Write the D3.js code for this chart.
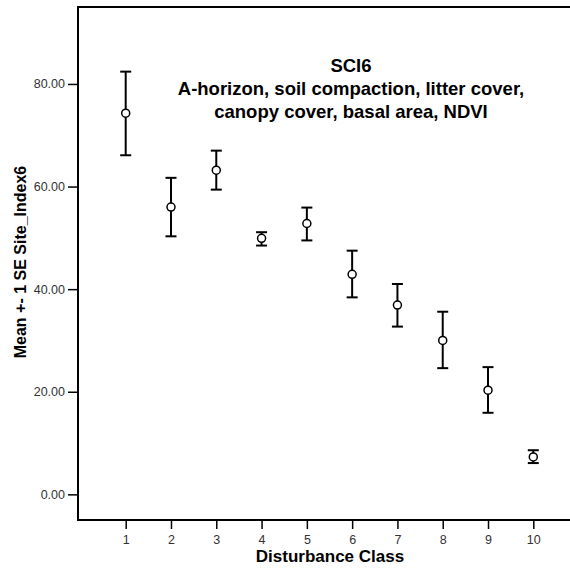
<!DOCTYPE html>
<html>
<head>
<meta charset="UTF-8">
<style>
  html, body { margin: 0; padding: 0; background: white; overflow: hidden; }
  svg { display: block; }
  svg text { font-family: "Liberation Sans", Arial, sans-serif; }
</style>
</head>
<body>
<svg></svg>
<script src="https://d3js.org/d3.v7.min.js"></script>
<script>

// Disturbance classes and mean +- 1 SE of Site_Index6
let classes = [1, 2, 3, 4, 5, 6, 7, 8, 9, 10];
let means  = [74.3, 56.0, 63.2, 49.9, 52.8, 42.9, 36.9, 30.0, 20.3, 7.3];
let upper  = [82.4, 61.7, 67.0, 51.1, 55.9, 47.5, 41.0, 35.6, 24.8, 8.6];
let lower  = [66.1, 50.3, 59.4, 48.5, 49.5, 38.4, 32.7, 24.6, 15.9, 6.1];
let yTicks = [0, 20, 40, 60, 80];
let titleLines = ["SCI6", "A-horizon, soil compaction, litter cover,", "canopy cover, basal area, NDVI"];

let width = 570, height = 569;
let svg = d3.select("svg").attr("width", width).attr("height", height);

let plotLeft = 78, plotTop = 7, plotBottom = 520;

let x = d3.scaleLinear().domain([1, 10]).range([125.7, 533.3]);
let y = d3.scaleLinear().domain([-5, 95]).range([plotBottom, plotTop]);

let data = classes.map((c, i) => ({c: c, m: means[i], hi: upper[i], lo: lower[i]}));

// frame (top, left, bottom) - open on the right
svg.append("path")
    .attr("d", `M${width + 5},${plotTop}H${plotLeft}V${plotBottom}H${width + 5}`)
    .attr("fill", "none")
    .attr("stroke", "black")
    .attr("stroke-width", 2);

// y axis
let yAxis = svg.append("g")
    .attr("transform", `translate(${plotLeft - 1},0)`)
    .call(d3.axisLeft(y).tickValues(yTicks).tickFormat(d3.format(".2f")).tickSize(9).tickPadding(3));
yAxis.select(".domain").remove();
yAxis.selectAll("line").attr("stroke-width", 1.5);
yAxis.selectAll("text").attr("font-size", 12.5).attr("fill", "#333").attr("font-family", "Liberation Sans, Arial, sans-serif");

// x axis
let xAxis = svg.append("g")
    .attr("transform", `translate(0,${plotBottom + 1})`)
    .call(d3.axisBottom(x).tickValues(classes).tickFormat(d3.format("d")).tickSize(8).tickPadding(6));
xAxis.select(".domain").remove();
xAxis.selectAll("line").attr("stroke-width", 1.5);
xAxis.selectAll("text").attr("font-size", 12.5).attr("fill", "#333").attr("font-family", "Liberation Sans, Arial, sans-serif");

// error bars
let bars = svg.append("g").selectAll("g").data(data).enter().append("g");
let cap = 5.5;
bars.append("line")
    .attr("x1", d => x(d.c)).attr("x2", d => x(d.c))
    .attr("y1", d => y(d.hi)).attr("y2", d => y(d.lo))
    .attr("stroke", "black").attr("stroke-width", 2);
bars.append("line")
    .attr("x1", d => x(d.c) - cap).attr("x2", d => x(d.c) + cap)
    .attr("y1", d => y(d.hi)).attr("y2", d => y(d.hi))
    .attr("stroke", "black").attr("stroke-width", 2);
bars.append("line")
    .attr("x1", d => x(d.c) - cap).attr("x2", d => x(d.c) + cap)
    .attr("y1", d => y(d.lo)).attr("y2", d => y(d.lo))
    .attr("stroke", "black").attr("stroke-width", 2);
bars.append("circle")
    .attr("cx", d => x(d.c)).attr("cy", d => y(d.m))
    .attr("r", 4)
    .attr("fill", "white").attr("stroke", "black").attr("stroke-width", 1.5);

// title block
svg.append("g").selectAll("text").data(titleLines).enter().append("text")
    .attr("x", 351)
    .attr("y", (d, i) => 71.5 + i * 23)
    .attr("text-anchor", "middle")
    .attr("font-size", 18.5)
    .attr("font-weight", "bold")
    .text(d => d);

// axis titles
svg.append("text")
    .attr("x", 330).attr("y", 562)
    .attr("text-anchor", "middle")
    .attr("font-size", 17).attr("font-weight", "bold")
    .text("Disturbance Class");

svg.append("text")
    .attr("transform", "translate(26,262) rotate(-90)")
    .attr("text-anchor", "middle")
    .attr("font-size", 16).attr("font-weight", "bold")
    .text("Mean +- 1 SE Site_Index6");

</script>
</body>
</html>
